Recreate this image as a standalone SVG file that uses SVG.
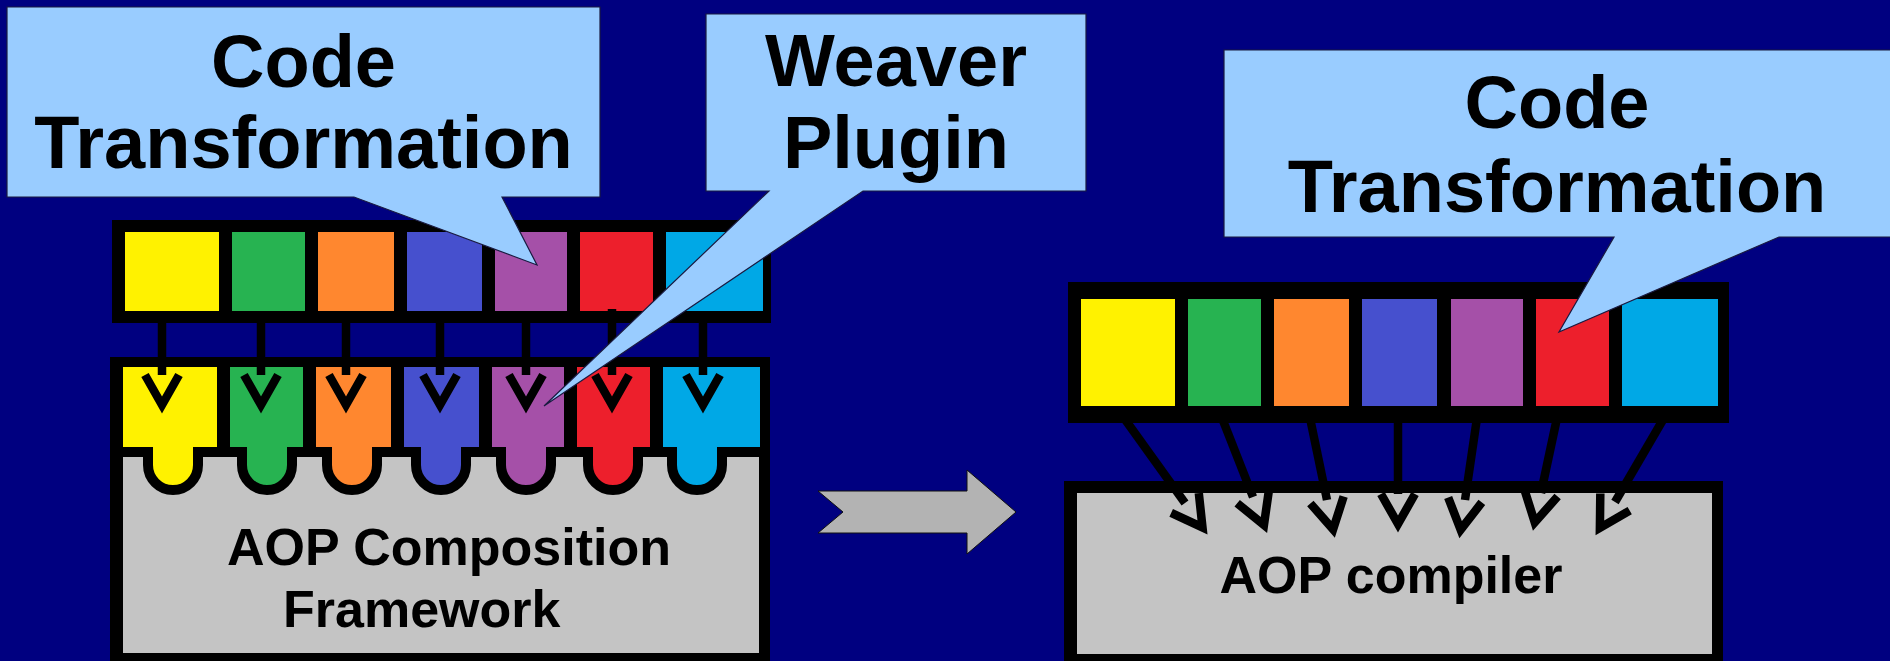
<svg xmlns="http://www.w3.org/2000/svg" width="1890" height="661" viewBox="0 0 1890 661">
<style>
.bg{fill:#000080}
.blk{fill:#000}
.gray{fill:#c4c4c4}
.y{fill:#fff200}.g{fill:#27b351}.o{fill:#ff872f}.b{fill:#4650ce}.p{fill:#a550a8}.r{fill:#ed1f2c}.c{fill:#00a8e6}
.plug{stroke:#000;stroke-width:10;stroke-linejoin:miter}
.conn{stroke:#000;stroke-width:8.5;fill:none;marker-end:url(#vh)}
.call{fill:#99ccff;stroke:#1a1a40;stroke-width:1.2}
.big{font-family:"Liberation Sans",Arial,Helvetica,sans-serif;font-weight:bold;font-size:74px;fill:#000;text-anchor:middle}
.lbl{font-family:"Liberation Sans",Arial,Helvetica,sans-serif;font-weight:bold;font-size:52px;fill:#000}
.garrow{fill:#b3b3b3;stroke:#111;stroke-width:1}
</style>
<defs>
<marker id="vh" markerUnits="userSpaceOnUse" orient="auto" markerWidth="60" markerHeight="60" refX="0" refY="0" overflow="visible">
<path d="M0,-17 L30,0 L0,17" fill="none" stroke="#000" stroke-width="8.5" stroke-linejoin="miter"/>
</marker>
</defs>
<rect class="bg" x="0" y="0" width="1890" height="661"/>

<g id="left-aspects">
<rect class="blk" x="112" y="220" width="659" height="103"/>
<rect class="y" x="125" y="232" width="94" height="79"/>
<rect class="g" x="232" y="232" width="73" height="79"/>
<rect class="o" x="318" y="232" width="76" height="79"/>
<rect class="b" x="407" y="232" width="75" height="79"/>
<rect class="p" x="495" y="232" width="72" height="79"/>
<rect class="r" x="580" y="232" width="73" height="79"/>
<rect class="c" x="666" y="232" width="97" height="79"/>
</g>

<g id="aop-composition-framework">
<rect class="blk" x="110" y="357" width="660" height="310"/>
<rect class="gray" x="123" y="457" width="636" height="196"/>
<path class="plug y" d="M118,362 H222 V452 H198 V465 A25,25 0 0 1 148,465 V452 H118 Z"/>
<path class="plug g" d="M225,362 H308 V452 H292 V465 A25,25 0 0 1 242,465 V452 H225 Z"/>
<path class="plug o" d="M311,362 H396 V452 H377 V465 A25,25 0 0 1 327,465 V452 H311 Z"/>
<path class="plug b" d="M399,362 H484 V452 H466 V465 A25,25 0 0 1 416,465 V452 H399 Z"/>
<path class="plug p" d="M487,362 H569 V452 H551 V465 A25,25 0 0 1 501,465 V452 H487 Z"/>
<path class="plug r" d="M572,362 H655 V452 H638 V465 A25,25 0 0 1 588,465 V452 H572 Z"/>
<path class="plug c" d="M658,362 H765 V452 H722 V465 A25,25 0 0 1 672,465 V452 H658 Z"/>
<text class="lbl" x="227" y="565">AOP Composition</text>
<text class="lbl" x="283" y="627">Framework</text>
</g>

<g id="right-aspects">
<rect class="blk" x="1068" y="282" width="661" height="141"/>
<rect class="y" x="1081" y="299" width="94" height="107"/>
<rect class="g" x="1188" y="299" width="73" height="107"/>
<rect class="o" x="1274" y="299" width="75" height="107"/>
<rect class="b" x="1362" y="299" width="75" height="107"/>
<rect class="p" x="1451" y="299" width="72" height="107"/>
<rect class="r" x="1536" y="299" width="73" height="107"/>
<rect class="c" x="1622" y="299" width="96" height="107"/>
</g>

<g id="aop-compiler">
<rect class="blk" x="1064" y="481" width="659" height="190"/>
<rect class="gray" x="1077" y="493" width="635" height="161"/>
<text class="lbl" x="1391" y="593" text-anchor="middle">AOP compiler</text>
</g>

<g id="connectors">
<path class="conn" d="M162,318 V375"/>
<path class="conn" d="M261,318 V375"/>
<path class="conn" d="M346,318 V375"/>
<path class="conn" d="M440,318 V375"/>
<path class="conn" d="M526,318 V375"/>
<path class="conn" d="M612,309 V375"/>
<path class="conn" d="M703,318 V375"/>
<path class="conn" d="M1124,418 L1185,503"/>
<path class="conn" d="M1222,418 L1253,497"/>
<path class="conn" d="M1310,418 L1327,500"/>
<path class="conn" d="M1398,418 L1398,494"/>
<path class="conn" d="M1477,418 L1465,500"/>
<path class="conn" d="M1557,418 L1541,493"/>
<path class="conn" d="M1664,418 L1615,502"/>
</g>

<g id="transition-arrow">
<path class="garrow" d="M818,491 H967 V470 L1016,512 L967,554 V533 H818 L843,512 Z"/>
</g>

<g id="callout-code-transformation-left">
<path class="call" d="M7,7 H600 V197 H502 L537,265 L354,197 H7 Z"/>
<text class="big" x="303.5" y="87">Code</text>
<text class="big" x="303.5" y="168">Transformation</text>
</g>

<g id="callout-weaver-plugin">
<path class="call" d="M706,14 H1086 V191 H863 L544,406 L769,191 H706 Z"/>
<text class="big" x="896" y="86">Weaver</text>
<text class="big" x="896" y="168">Plugin</text>
</g>

<g id="callout-code-transformation-right">
<path class="call" d="M1224,50 H1895 V237 H1779 L1559,332 L1614,237 H1224 Z"/>
<text class="big" x="1557" y="128">Code</text>
<text class="big" x="1557" y="212">Transformation</text>
</g>
</svg>
